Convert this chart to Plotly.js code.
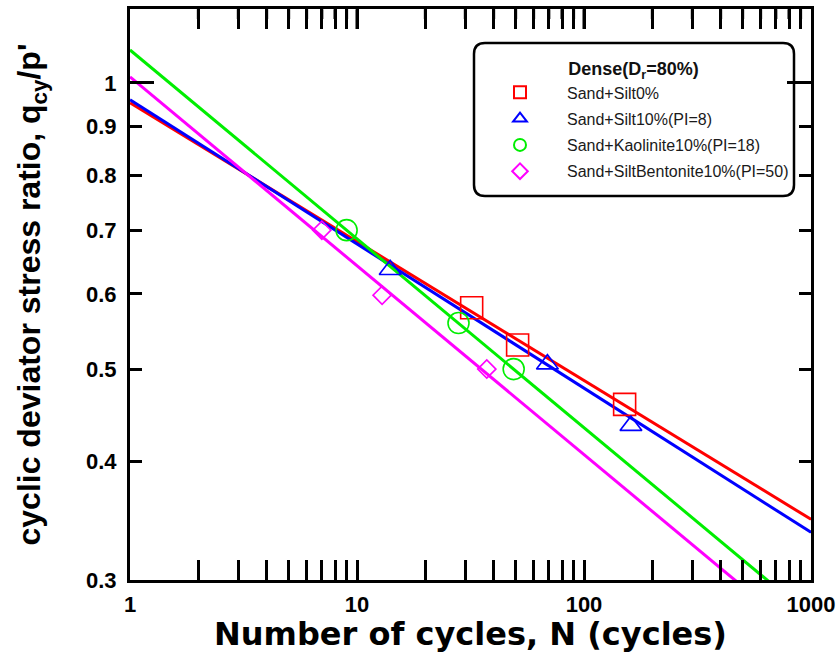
<!DOCTYPE html>
<html>
<head>
<meta charset="utf-8">
<script src="https://cdn.plot.ly/plotly-3.0.1.min.js"></script>
<style>html,body{margin:0;padding:0;background:#fff;}#chart{width:840px;height:653px;}</style>
</head>
<body>
<div id="chart"></div>
<script>
// ---- data ----
const seriesNames = ["Sand+Silt0%", "Sand+Silt10%(PI=8)", "Sand+Kaolinite10%(PI=18)", "Sand+SiltBentonite10%(PI=50)"];
const silt0_N = [32, 51, 151];
const silt0_q = [0.58, 0.53, 0.459];
const silt10_N = [14, 69, 161];
const silt10_q = [0.636, 0.506, 0.436];
const kaol_N = [9.0, 28, 49];
const kaol_q = [0.70, 0.559, 0.50];
const bent_N = [7.0, 12.9, 37.3];
const bent_q = [0.70, 0.598, 0.50];
// fitted trend lines (end points read at N = 1 and N = 1000)
const fitN = [1, 1000];
const silt0_fit = [0.953, 0.3475];
const silt10_fit = [0.96, 0.3367];
const kaol_fit = [1.083, 0.2746];
const bent_fit = [1.0146, 0.2573];
const yTickVals = [0.3, 0.4, 0.5, 0.6, 0.7, 0.8, 0.9, 1];
const yTickText = ["0.3", "0.4", "0.5", "0.6", "0.7", "0.8", "0.9", "1"];
const xTickVals = [1, 10, 100, 1000];
const xTickText = ["1", "10", "100", "1000"];
const xMinorVals = [2,3,4,5,6,7,8,9,20,30,40,50,60,70,80,90,200,300,400,500,600,700,800,900];

const colors = ["#ff0000", "#0000ff", "#00ee00", "#ff00ff"];
const symbols = ["square-open", "triangle-up-open", "circle-open", "diamond-open"];
const sizes = [22, 19, 21, 14];
const pts = [[silt0_N, silt0_q], [silt10_N, silt10_q], [kaol_N, kaol_q], [bent_N, bent_q]];
const fits = [silt0_fit, silt10_fit, kaol_fit, bent_fit];

const traces = [];
for (let i = 0; i < 4; i++) {
  traces.push({
    x: fitN, y: fits[i], mode: "lines", type: "scatter",
    line: {color: colors[i], width: 3}, showlegend: false, hoverinfo: "skip"
  });
}
for (let i = 0; i < 4; i++) {
  traces.push({
    x: pts[i][0], y: pts[i][1], mode: "markers", type: "scatter", name: seriesNames[i],
    legendgroup: "g" + i,
    marker: {symbol: symbols[i], size: sizes[i], color: colors[i], line: {width: 1.6, color: colors[i]}}
  });
}
// invisible carrier so the mirrored right tick axis is drawn
traces.push({x: fitN, y: silt0_fit, xaxis: "x", yaxis: "y2", mode: "lines",
             line: {width: 0, color: "rgba(0,0,0,0)"}, showlegend: false, hoverinfo: "skip"});

// rounded legend frame in paper coords
const L = 130, T = 9, W = 681, H = 571;
function px(xp){return (xp - L)/W;}
function py(yp){return (T + H - yp)/H;}
const x0 = px(474), x1 = px(794), yT = py(43), yB = py(196);
const rx = 11/W, ry = 11/H;
const framePath = `M ${x0+rx},${yT} L ${x1-rx},${yT} Q ${x1},${yT} ${x1},${yT-ry} L ${x1},${yB+ry} Q ${x1},${yB} ${x1-rx},${yB} L ${x0+rx},${yB} Q ${x0},${yB} ${x0},${yB+ry} L ${x0},${yT-ry} Q ${x0},${yT} ${x0+rx},${yT} Z`;

const xRange = [0, 3];
const yRange = [Math.log10(0.3), Math.log10(1.196)];

// mirrored tick marks on the top edge as one path (decoration), from the log axis range
function tickSeg(v, len) {
  const xp = ((Math.log10(v) - xRange[0]) / (xRange[1] - xRange[0])).toFixed(5);
  return `M ${xp},0.9995 L ${xp},${(1 - len / H).toFixed(5)} `;
}
let topPath = "";
xTickVals.slice(1, -1).forEach(v => { topPath += tickSeg(v, 20); });
xMinorVals.forEach(v => { topPath += tickSeg(v, 10); });

const shapes = [
  {type: "path", xref: "paper", yref: "paper", path: framePath,
   line: {color: "#000", width: 2.5}, fillcolor: "rgba(0,0,0,0)", layer: "above"},
  {type: "path", xref: "paper", yref: "paper", path: topPath,
   line: {color: "#000", width: 3}, fillcolor: "rgba(0,0,0,0)", layer: "above"}
];

const tickFont = {family: "Liberation Sans, Arial, sans-serif", size: 22, weight: "bold", color: "#000"};

const layout = {
  width: 840, height: 653,
  margin: {l: L, r: 840 - L - W, t: T, b: 653 - T - H},
  paper_bgcolor: "#ffffff", plot_bgcolor: "#ffffff",
  showlegend: true,
  legend: {
    x: px(473), y: py(52), xanchor: "left", yanchor: "top",
    bgcolor: "rgba(0,0,0,0)", borderwidth: 0,
    font: {family: "Liberation Sans, Arial, sans-serif", size: 16, color: "#1a1a1a"},
    title: {text: "Dense(D<sub>r</sub>=80%)", side: "top center",
            font: {family: "Liberation Sans, Arial, sans-serif", size: 18, weight: "bold", color: "#111"}},
    itemsizing: "constant", itemwidth: 84, tracegroupgap: 2.5, traceorder: "grouped"
  },
  xaxis: {
    type: "log", range: xRange,
    showgrid: false, zeroline: false,
    showline: true, linecolor: "#000", linewidth: 3, mirror: "allticks",
    ticks: "inside", ticklen: 20, tickwidth: 3, tickcolor: "#000",
    tickmode: "array", tickvals: xTickVals, ticktext: xTickText,
    ticklabelstandoff: 3,
    minor: {tickmode: "array", tickvals: xMinorVals, ticks: "inside", ticklen: 10, tickwidth: 3, tickcolor: "#000", showgrid: false},
    tickfont: tickFont,
    title: {text: "Number of cycles, N (cycles)", standoff: 4,
            font: {family: "DejaVu Sans, sans-serif", size: 32, weight: "bold", color: "#000"}}
  },
  yaxis: {
    type: "log", range: yRange,
    showgrid: false, zeroline: false,
    showline: true, linecolor: "#000", linewidth: 3, mirror: true,
    ticks: "inside", ticklen: 12, tickwidth: 3, tickcolor: "#000",
    tickmode: "array", tickvals: yTickVals, ticktext: yTickText,
    ticklabelstandoff: 6,
    minor: {tickmode: "array", tickvals: [1], ticks: "inside", ticklen: 24, tickwidth: 3, tickcolor: "#000", showgrid: false},
    tickfont: tickFont,
    title: {text: "cyclic deviator stress ratio, q<sub>cy</sub>/p'", standoff: 36,
            font: {family: "Liberation Sans, Arial, sans-serif", size: 32, weight: "bold", color: "#000"}}
  },
  yaxis2: {
    type: "log", range: yRange, overlaying: "y", side: "right", anchor: "x",
    showgrid: false, zeroline: false, showline: false, showticklabels: false,
    ticks: "inside", ticklen: 12, tickwidth: 3, tickcolor: "#000",
    tickmode: "array", tickvals: yTickVals,
    minor: {tickmode: "array", tickvals: [1], ticks: "inside", ticklen: 24, tickwidth: 3, tickcolor: "#000", showgrid: false}
  },
  shapes: shapes
};

Plotly.newPlot("chart", traces, layout, {displayModeBar: false, staticPlot: true});
</script>
</body>
</html>
